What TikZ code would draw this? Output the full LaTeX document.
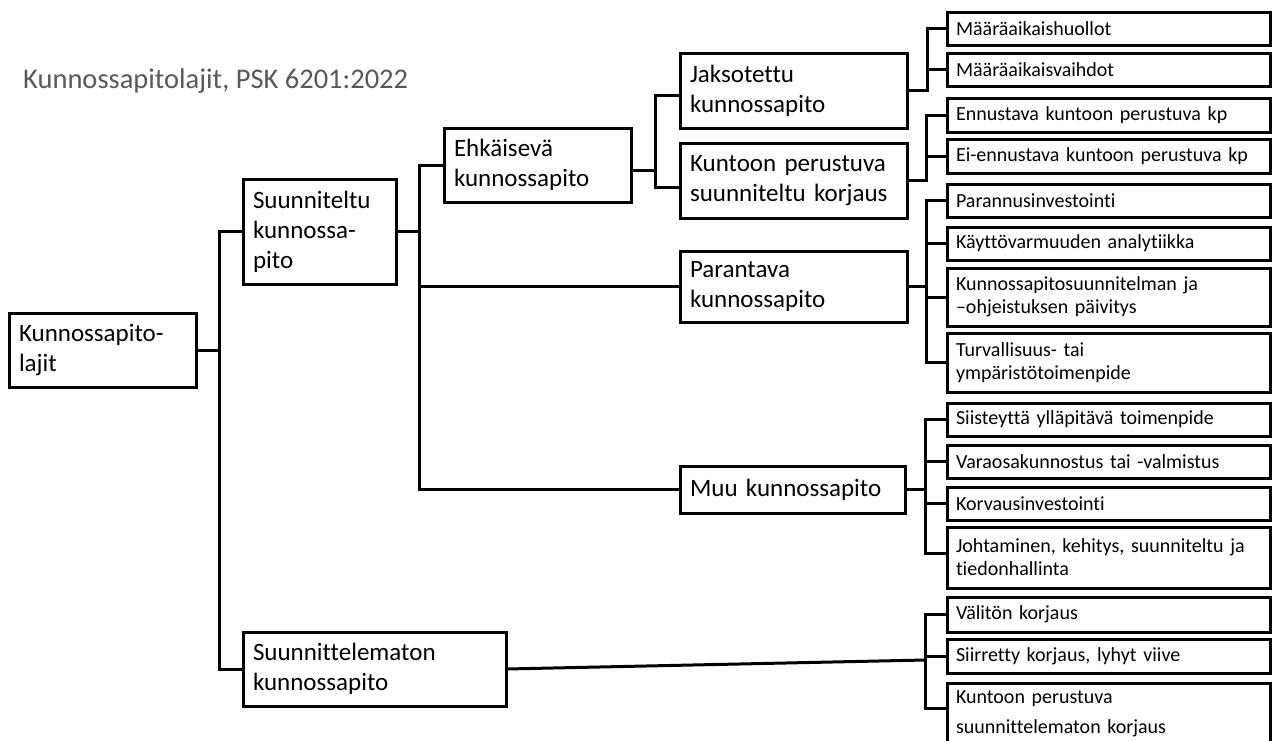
\documentclass[tikz,border=0pt]{standalone}
\usepackage{fontspec}
\setmainfont{Carlito}[Ligatures={NoCommon}]
\definecolor{titlegray}{RGB}{89,89,89}
\begin{document}
\begin{tikzpicture}[x=1pt,y=-1pt,
  box/.style={draw=black, line width=3pt, fill=white, rectangle,
    anchor=north west, outer sep=0pt, inner xsep=10pt, inner ysep=0pt,
    align=left, font=\fontsize{25}{30}\selectfont},
  leaf/.style={box, inner xsep=9pt, minimum width=323pt, text width=305pt,
    font=\fontsize{20}{23}\selectfont},
  conn/.style={draw=black, line width=3pt, line join=miter}]

\useasboundingbox (0,0) rectangle (1273,740);
\clip (0,0) rectangle (1273,740);
\fill[white] (0,0) rectangle (1273,740);

% title
\node[anchor=west, inner sep=0pt, text=titlegray,
  font=\fontsize{28.5}{34}\selectfont] (title) at (23,81)
  {Kunnossapitolajit, PSK 6201:2022};

% main categories
\node[box, minimum width=187pt, minimum height=74pt, text width=167pt] (root) at (9,313) {Kunnossapito-\\lajit};
\node[box, minimum width=153pt, minimum height=105pt, text width=133pt] (suun) at (243,179) {Suunniteltu\\kunnossa-\\pito};
\node[box, minimum width=263pt, minimum height=74pt, text width=243pt] (suunm) at (243,632) {Suunnittelematon\\kunnossapito};
\node[box, minimum width=187pt, minimum height=74pt, text width=167pt] (ehk) at (444,128) {Ehkäisevä\\kunnossapito};
\node[box, minimum width=227pt, minimum height=75pt, text width=207pt] (jak) at (680,53) {Jaksotettu\\kunnossapito};
\node[box, minimum width=227pt, minimum height=75pt, text width=207pt] (kun) at (680,143) {Kuntoon perustuva\\suunniteltu korjaus};
\node[box, minimum width=227pt, minimum height=71pt, text width=207pt] (par) at (680,251) {Parantava\\kunnossapito};
\node[box, minimum width=225pt, minimum height=47pt, text width=205pt] (muu) at (680,466) {Muu kunnossapito};

% leaf boxes
\node[leaf, minimum height=33pt] (r1) at (947,12) {Määräaikaishuollot};
\node[leaf, minimum height=33pt] (r2) at (947,53) {Määräaikaisvaihdot};
\node[leaf, minimum height=34pt] (r3) at (947,98) {Ennustava kuntoon perustuva kp};
\node[leaf, minimum height=34pt] (r4) at (947,139) {Ei-ennustava kuntoon perustuva kp};
\node[leaf, minimum height=33pt] (r5) at (947,184) {Parannusinvestointi};
\node[leaf, minimum height=33pt] (r6) at (947,227) {Käyttövarmuuden analytiikka};
\node[leaf, minimum height=58pt] (r7) at (947,268) {Kunnossapitosuunnitelman ja\\–ohjeistuksen päivitys};
\node[leaf, minimum height=59pt] (r8) at (947,333) {Turvallisuus- tai\\ympäristötoimenpide};
\node[leaf, minimum height=33pt] (r9) at (947,403) {Siisteyttä ylläpitävä toimenpide};
\node[leaf, minimum height=33pt] (r10) at (947,445) {Varaosakunnostus tai -valmistus};
\node[leaf, minimum height=33pt] (r11) at (947,487) {Korvausinvestointi};
\node[leaf, minimum height=61pt] (r12) at (947,527) {Johtaminen, kehitys, suunniteltu ja\\tiedonhallinta};
\node[leaf, minimum height=35pt] (r13) at (947,597) {Välitön korjaus};
\node[leaf, minimum height=34pt] (r14) at (947,639) {Siirretty korjaus, lyhyt viive};
\node[leaf, minimum height=62pt, font=\fontsize{20}{30}\selectfont] (r15) at (947,683) {Kuntoon perustuva\\suunnittelematon korjaus};

% bus lines
\coordinate (b0) at (219,0);
\coordinate (b1) at (419,0);
\coordinate (b2) at (655,0);
\coordinate (b3) at (927,0);
\coordinate (b4) at (926,0);
\coordinate (b5) at (925,0);
\coordinate (u0) at (925,660);
\coordinate (u1) at (925,708);
\coordinate (ehkR) at ([yshift=-5pt]ehk.east);
\coordinate (jakL) at ([yshift=-5pt]jak.west);
\coordinate (kunL) at ([yshift=-7pt]kun.west);
\coordinate (r12L) at ([yshift=4pt]r12.west);

% Kunnossapitolajit
\draw[conn] (root.east) -- (root.east -| b0);
\draw[conn] (suun.west) -| (b0 |- suunm.west) -- (suunm.west);

% Suunniteltu kunnossapito
\draw[conn] (suun.east) -- (suun.east -| b1);
\draw[conn] (ehk.west) -| (b1 |- muu.west) -- (muu.west);
\draw[conn] (par.west) -- (par.west -| b1);

% Ehkäisevä kunnossapito
\draw[conn] (ehkR) -- (ehkR -| b2);
\draw[conn] (jakL) -| (b2 |- kunL) -- (kunL);

% Jaksotettu kunnossapito
\draw[conn] (jak.east) -| (b3 |- r1.west) -- (r1.west);
\draw[conn] (r2.west) -- (r2.west -| b3);

% Kuntoon perustuva suunniteltu korjaus
\draw[conn] (kun.east) -| (b4 |- r3.west) -- (r3.west);
\draw[conn] (r4.west) -- (r4.west -| b4);

% Parantava kunnossapito
\draw[conn] (par.east) -| (b4 |- r5.west) -- (r5.west);
\draw[conn] (r5.west -| b4) -- (b4 |- r8.west) -- (r8.west);
\draw[conn] (r6.west) -- (r6.west -| b4);
\draw[conn] (r7.west) -- (r7.west -| b4);

% Muu kunnossapito
\draw[conn] (muu.east) -| (b5 |- r9.west) -- (r9.west);
\draw[conn] (r9.west -| b5) -- (b5 |- r12L) -- (r12L);
\draw[conn] (r10.west) -- (r10.west -| b5);
\draw[conn] (r11.west) -- (r11.west -| b5);

% Suunnittelematon kunnossapito
\draw[conn] (suunm.east) -- (u0);
\draw[conn] (r13.west) -| (u1) -- (u1 -| r15.west);
\draw[conn] (r14.west) -- (r14.west -| u0);

\end{tikzpicture}
\end{document}
